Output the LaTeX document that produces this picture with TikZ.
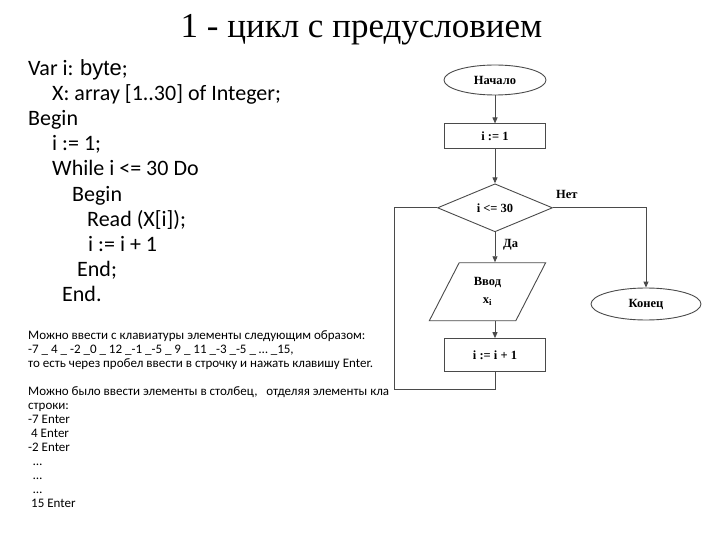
\documentclass[tikz,border=0pt]{standalone}
\usepackage{fontspec}
\setmainfont{Liberation Serif}
\newfontfamily\bodyfont{Carlito}
\newfontfamily\arialfont{Liberation Sans}
\usetikzlibrary{arrows.meta,positioning,shapes.geometric}
\definecolor{colLine}{HTML}{4A4A4A}
\tikzset{
  termbox/.style={ellipse,draw=colLine,line width=0.9pt,minimum width=102pt,minimum height=30pt,
    inner sep=0pt,font=\bfseries\fontsize{12.5}{14}\selectfont},
  procbox/.style={rectangle,draw=colLine,line width=0.9pt,minimum width=101pt,minimum height=25pt,
    inner sep=0pt,font=\bfseries\fontsize{12.5}{14}\selectfont},
  condbox/.style={diamond,draw=colLine,line width=0.9pt,minimum width=115pt,minimum height=48pt,
    inner sep=0pt,font=\bfseries\fontsize{12.5}{14}\selectfont},
  iobox/.style={trapezium,trapezium left angle=63,trapezium right angle=117,trapezium stretches=true,
    draw=colLine,line width=0.9pt,minimum width=117pt,minimum height=58pt,inner sep=0pt,align=center,
    font=\bfseries\fontsize{12.5}{18}\selectfont},
  farr/.style={-{Triangle[length=6pt,width=5pt]},line width=0.9pt,draw=colLine},
  fline/.style={line width=0.9pt,draw=colLine},
  codetext/.style={anchor=north west,inner sep=0pt,align=left,font=\bodyfont\fontsize{22}{25.2}\selectfont},
  notetext/.style={anchor=north west,inner sep=0pt,align=left,font=\bodyfont\fontsize{13}{14}\selectfont},
  lbl/.style={inner sep=0pt,font=\bfseries\fontsize{12.5}{14}\selectfont},
}

\begin{document}
\begin{tikzpicture}[x=1pt,y=-1pt]
  \useasboundingbox (0,0) rectangle (720,540);
  \node[anchor=base,font=\fontsize{35}{40}\selectfont] (title) at (361.5,38) {1 - цикл с предусловием};
  % program text
  \node[codetext] (code) at (28,59)
    {Var i: {\arialfont byte};\\
     \hspace*{24pt}X: array [1..30] of Integer;\\
     Begin\\
     \hspace*{24pt}i := 1;\\
     \hspace*{24pt}While i <= 30 Do\\
     \hspace*{44pt}Begin\\
     \hspace*{59pt}Read (X[i]);\\
     \hspace*{60pt}i := i + 1\\
     \hspace*{49pt}End;\\
     \hspace*{34pt}End.};
  \node[notetext] (note) at (28,330)
    {Можно ввести с клавиатуры элементы следующим образом:\\
     -7 \_ 4 \_ -2 \_0 \_ 12 \_-1 \_-5 \_ 9 \_ 11 \_-3 \_-5 \_ … \_15,\\
     то есть через пробел ввести в строчку и нажать клавишу Enter.\\[14pt]
     Можно было ввести элементы в столбец,\ \ \ отделяя элементы кла\\
     строки:\\
     -7 Enter\\
     \hspace*{3pt}4 Enter\\
     -2 Enter\\
     \hspace*{5pt}…\\
     \hspace*{5pt}…\\
     \hspace*{5pt}…\\
     \hspace*{3pt}15 Enter};
  % flowchart
  \node[termbox] (start) at (495,80) {Начало};
  \node[procbox,below=28pt of start] (init) {i := 1};
  \node[condbox,below=34pt of init] (cond) {i <= 30};
  \node[iobox,below=30pt of cond,xshift=-7.5pt] (input) {Ввод\\x\textsubscript{i}};
  \node[procbox,minimum height=33pt,below=17pt of input,xshift=7.5pt] (incr) {i := i + 1};
  \node[termbox,minimum width=110pt,minimum height=32pt] (stop) at (646,304) {Конец};
  \node[lbl,anchor=south west] (no) at ([xshift=3pt,yshift=9pt]cond.east) {Нет};
  \node[lbl,anchor=west] (yes) at ([xshift=8pt,yshift=-12pt]cond.south) {Да};
  \draw[farr] (start) -- (init);
  \draw[farr] (init) -- (cond);
  \draw[farr] (cond.south) -- (cond.south |- input.north);
  \draw[farr] (incr.north |- input.south) -- (incr);
  \draw[farr] (cond.east) -| (stop.north);
  \draw[fline] (incr.south) -- ++(0,17) -| ([xshift=-42.5pt]cond.west) -- (cond.west);
\end{tikzpicture}
\end{document}
